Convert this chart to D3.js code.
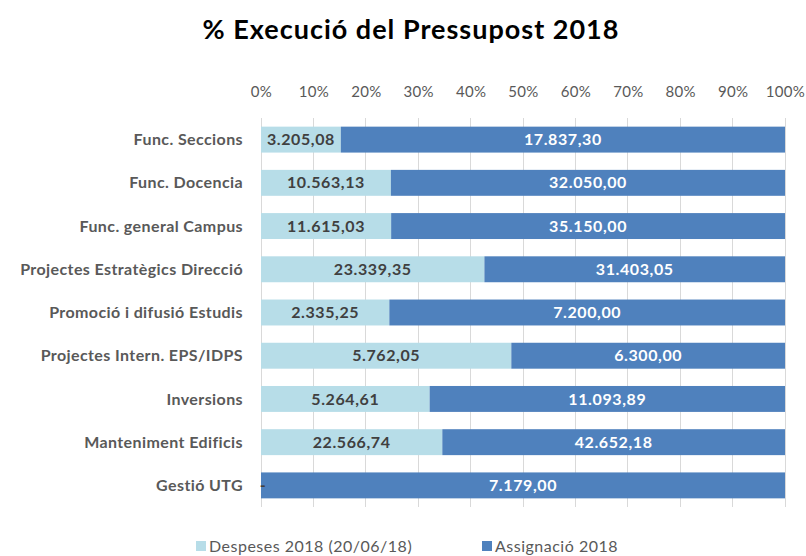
<!DOCTYPE html>
<html><head><meta charset="utf-8">
<script src="https://cdn.jsdelivr.net/npm/d3@7"></script>
<style>body{margin:0;background:#fff}svg{display:block}</style>
</head><body><svg id="c" width="806" height="556"></svg>
<script>
const categories = ["Func. Seccions","Func. Docencia","Func. general Campus","Projectes Estratègics Direcció","Promoció i difusió Estudis","Projectes Intern. EPS/IDPS","Inversions","Manteniment Edificis","Gestió UTG"];
const despeses = [3205.08,10563.13,11615.03,23339.35,2335.25,5762.05,5264.61,22566.74,0];
const assignacio = [17837.30,32050.00,35150.00,31403.05,7200.00,6300.00,11093.89,42652.18,7179.00];
const seriesNames = ["Despeses 2018 (20/06/18)","Assignació 2018"];
const tickValues = [0,0.1,0.2,0.3,0.4,0.5,0.6,0.7,0.8,0.9,1];
const colors = ["#b7dde8","#4f81bd"];
const font = "Lato, 'Open Sans', sans-serif";

const svg = d3.select("#c");
const x = d3.scaleLinear().domain([0,1]).range([261,785]);
const y = d3.scaleBand().domain(categories).range([118,507]).paddingInner(0.4).paddingOuter(0.2);

svg.append("text").attr("x",411).attr("y",39).attr("text-anchor","middle")
  .attr("font-family",font).attr("font-weight","bold").attr("font-size",27).attr("letter-spacing","1px").attr("fill","#000")
  .text("% Execució del Pressupost 2018");

// gridlines
svg.append("g").selectAll("line").data(tickValues).join("line")
  .attr("x1",d=>x(d)).attr("x2",d=>x(d)).attr("y1",118).attr("y2",507)
  .attr("stroke","#d9d9d9").attr("stroke-width",1).attr("shape-rendering","crispEdges");

const xAxis = d3.axisTop(x).tickValues(tickValues).tickFormat(d3.format(".0%")).tickSize(0).tickPadding(21);
const ga = svg.append("g").attr("transform","translate(0,118)").call(xAxis);
ga.select(".domain").remove();
ga.selectAll("text").attr("font-family",font).attr("font-size",15).attr("letter-spacing","0.3px").attr("fill","#595959");

const fmt = v => {
  if (v === 0) return "-";
  const s = d3.format(",.2f")(v);
  return s.replace(/,/g,"#").replace(".",",").replace(/#/g,".");
};

const rows = categories.map((c,i)=>{
  const tot = despeses[i]+assignacio[i];
  return {c, d:despeses[i], a:assignacio[i], p:despeses[i]/tot};
});

const g = svg.append("g");
rows.forEach(r=>{
  const y0 = y(r.c), h = y.bandwidth();
  g.append("rect").attr("x",x(0)).attr("y",y0).attr("width",x(r.p)-x(0)).attr("height",h).attr("fill",colors[0]);
  g.append("rect").attr("x",x(r.p)).attr("y",y0).attr("width",x(1)-x(r.p)).attr("height",h).attr("fill",colors[1]);
  const cx1 = r.d===0 ? x(0)+2 : (x(0)+x(r.p))/2;
  g.append("text").attr("x",cx1).attr("y",y0+h/2).attr("dy","0.35em").attr("text-anchor","middle")
    .attr("font-family",font).attr("font-weight","bold").attr("font-size",16).attr("letter-spacing","0.6px").attr("fill","#404040").text(fmt(r.d));
  g.append("text").attr("x",(x(r.p)+x(1))/2).attr("y",y0+h/2).attr("dy","0.35em").attr("text-anchor","middle")
    .attr("font-family",font).attr("font-weight","bold").attr("font-size",16).attr("letter-spacing","0.6px").attr("fill","#fff").text(fmt(r.a));
  g.append("text").attr("x",243).attr("y",y0+h/2).attr("dy","0.35em").attr("text-anchor","end")
    .attr("font-family",font).attr("font-weight","bold").attr("font-size",16).attr("letter-spacing","0.4px").attr("fill","#595959").text(r.c);
});

// legend
const leg = [{x:196,n:seriesNames[0],c:colors[0]},{x:482,n:seriesNames[1],c:colors[1]}];
leg.forEach(l=>{
  svg.append("rect").attr("x",l.x).attr("y",541).attr("width",10).attr("height",10).attr("fill",l.c);
  svg.append("text").attr("x",l.x+13).attr("y",546).attr("dy","0.35em").attr("font-family",font)
    .attr("font-size",16).attr("letter-spacing","0.5px").attr("fill","#595959").text(l.n);
});
</script></body></html>
